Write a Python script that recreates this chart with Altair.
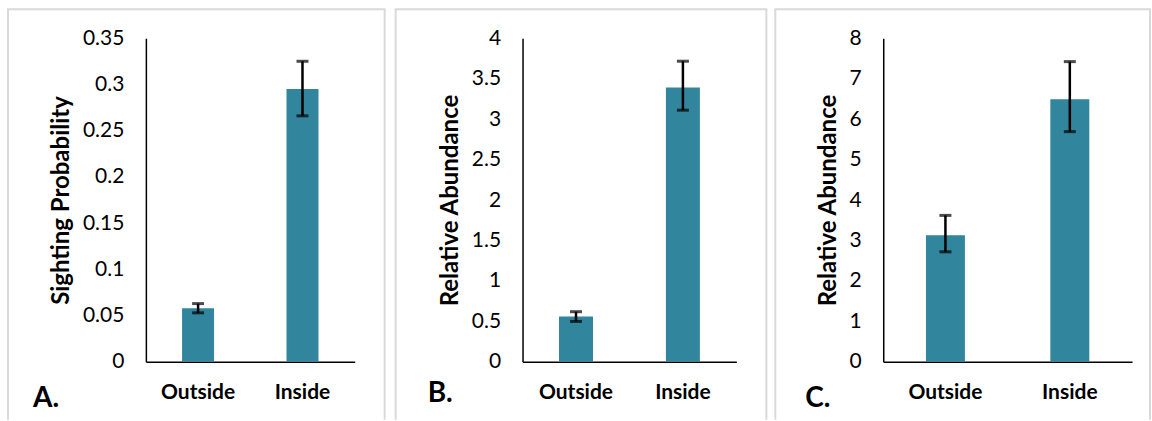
import altair as alt
import pandas as pd

categories = ["Outside", "Inside"]

a_values = [0.058, 0.295]
a_low = [0.053, 0.266]
a_high = [0.063, 0.325]
a_ticks = [0, 0.05, 0.1, 0.15, 0.2, 0.25, 0.3, 0.35]

b_values = [0.56, 3.39]
b_low = [0.50, 3.11]
b_high = [0.62, 3.715]
b_ticks = [0, 0.5, 1, 1.5, 2, 2.5, 3, 3.5, 4]

c_values = [3.13, 6.49]
c_low = [2.72, 5.69]
c_high = [3.62, 7.42]
c_ticks = [0, 1, 2, 3, 4, 5, 6, 7, 8]

FONT = "Lato"
BAR = "#31859C"
FRAME = "#d9d9d9"


def panel(values, low, high, ticks, title, letter, width, plot_w, bar_w,
          fx, fx2, lx, ly):
    df = pd.DataFrame({"cat": categories, "val": values, "lo": low, "hi": high})
    xscale = alt.Scale(paddingInner=0, paddingOuter=0, range=[0, plot_w])
    xenc = alt.X("cat:N", sort=categories, title=None, scale=xscale,
                 axis=alt.Axis(labelAngle=0, labelFontWeight="bold", labelPadding=20))
    yscale = alt.Scale(domain=[ticks[0], ticks[-1]], nice=False)
    one = pd.DataFrame({"k": [0]})
    ftop, fbot = -29, 382
    left = alt.Chart(one).mark_rule(stroke=FRAME, strokeWidth=2).encode(
        x=alt.value(fx), y=alt.value(ftop), y2=alt.value(fbot))
    right = alt.Chart(one).mark_rule(stroke=FRAME, strokeWidth=2).encode(
        x=alt.value(fx2), y=alt.value(ftop), y2=alt.value(fbot))
    top = alt.Chart(one).mark_rule(stroke=FRAME, strokeWidth=2).encode(
        x=alt.value(fx - 1), x2=alt.value(fx2 + 1), y=alt.value(ftop))
    bars = alt.Chart(df).mark_bar(size=bar_w, color=BAR).encode(
        x=xenc,
        y=alt.Y("val:Q", scale=yscale,
                axis=alt.Axis(values=ticks, format="~g", title=title)),
    )
    xs = alt.X("cat:N", sort=categories, scale=xscale)
    rule = alt.Chart(df).mark_rule(color="black", strokeWidth=2.5).encode(
        x=xs, y=alt.Y("lo:Q", scale=yscale), y2="hi:Q")
    cap_lo = alt.Chart(df).mark_tick(color="black", thickness=3, size=12).encode(
        x=xs, y=alt.Y("lo:Q", scale=yscale))
    cap_hi = alt.Chart(df).mark_tick(color="black", thickness=3, size=12).encode(
        x=xs, y=alt.Y("hi:Q", scale=yscale))
    lab = alt.Chart(one).mark_text(
        text=letter, font=FONT, fontSize=28, fontWeight="bold",
        align="left", baseline="alphabetic", color="black"
    ).encode(x=alt.value(lx), y=alt.value(ly))
    return alt.layer(left, right, top, bars, rule, cap_lo, cap_hi, lab).properties(
        width=width, height=324)


pa = panel(a_values, a_low, a_high, a_ticks, "Sighting Probability", "A.", 230, 209, 32,
           -138, 239, -113, 369)
pb = panel(b_values, b_low, b_high, b_ticks, "Relative Abundance", "B.", 214, 214, 34,
           -127, 244, -95, 364)
pc = panel(c_values, c_low, c_high, c_ticks, "Relative Abundance", "C.", 249, 249, 39,
           -108, 267, -78, 369)

chart = alt.hconcat(pa, pb, pc, spacing=147, bounds="flush").properties(
    padding={"left": 6, "top": 8, "right": 0, "bottom": 0}
).configure_view(strokeWidth=0).configure_axis(
    labelFont=FONT, labelFontSize=21, labelColor="black",
    titleFont=FONT, titleFontSize=24, titleFontWeight="bold", titleColor="black",
    domainColor="black", domainWidth=1.5, ticks=False, tickSize=0, grid=False,
    labelPadding=22, titlePadding=9,
)

chart.save("out.html", embed_options={"renderer": "svg", "actions": False})
